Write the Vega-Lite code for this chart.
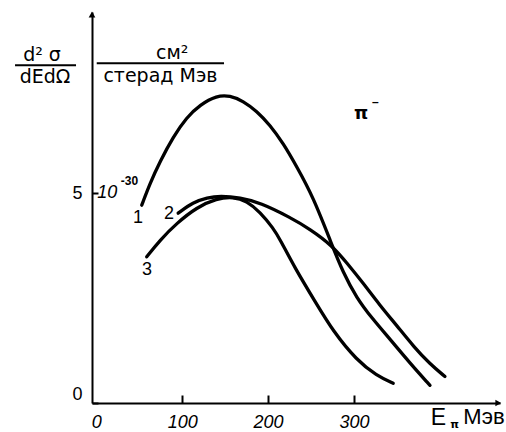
{
  "$schema": "https://vega.github.io/schema/vega-lite/v6.json",
  "width": 408,
  "height": 391,
  "autosize": {"type": "none"},
  "padding": {"left": 92, "top": 12, "right": 6, "bottom": 29},
  "background": "white",
  "config": {
    "view": {"stroke": null},
    "axis": {"grid": false, "domainColor": "black", "domainWidth": 2, "tickColor": "black", "tickWidth": 2, "labelColor": "black"}
  },
  "datasets": {
    "curves": [
      {"curve": "1", "E": 52.9, "v": 4.71},
      {"curve": "1", "E": 62.5, "v": 5.23},
      {"curve": "1", "E": 74.2, "v": 5.75},
      {"curve": "1", "E": 89.6, "v": 6.34},
      {"curve": "1", "E": 105.2, "v": 6.80},
      {"curve": "1", "E": 120.7, "v": 7.10},
      {"curve": "1", "E": 140.2, "v": 7.32},
      {"curve": "1", "E": 155.6, "v": 7.32},
      {"curve": "1", "E": 171.1, "v": 7.19},
      {"curve": "1", "E": 186.7, "v": 6.95},
      {"curve": "1", "E": 202.2, "v": 6.62},
      {"curve": "1", "E": 217.7, "v": 6.18},
      {"curve": "1", "E": 233.3, "v": 5.63},
      {"curve": "1", "E": 252.6, "v": 4.90},
      {"curve": "1", "E": 274.0, "v": 3.78},
      {"curve": "1", "E": 287.1, "v": 3.12},
      {"curve": "1", "E": 303.1, "v": 2.50},
      {"curve": "1", "E": 320.9, "v": 2.02},
      {"curve": "1", "E": 341.9, "v": 1.52},
      {"curve": "1", "E": 365.2, "v": 0.95},
      {"curve": "1", "E": 388.5, "v": 0.42},
      {"curve": "2", "E": 95.3, "v": 4.52},
      {"curve": "2", "E": 112.8, "v": 4.78},
      {"curve": "2", "E": 129.1, "v": 4.89},
      {"curve": "2", "E": 144.2, "v": 4.93},
      {"curve": "2", "E": 167.5, "v": 4.89},
      {"curve": "2", "E": 190.8, "v": 4.77},
      {"curve": "2", "E": 225.7, "v": 4.42},
      {"curve": "2", "E": 248.8, "v": 4.14},
      {"curve": "2", "E": 274.0, "v": 3.76},
      {"curve": "2", "E": 292.0, "v": 3.33},
      {"curve": "2", "E": 310.8, "v": 2.85},
      {"curve": "2", "E": 330.0, "v": 2.33},
      {"curve": "2", "E": 350.0, "v": 1.84},
      {"curve": "2", "E": 370.0, "v": 1.33},
      {"curve": "2", "E": 388.0, "v": 0.94},
      {"curve": "2", "E": 405.9, "v": 0.63},
      {"curve": "3", "E": 58.7, "v": 3.48},
      {"curve": "3", "E": 74.2, "v": 3.88},
      {"curve": "3", "E": 93.6, "v": 4.28},
      {"curve": "3", "E": 116.9, "v": 4.66},
      {"curve": "3", "E": 140.2, "v": 4.87},
      {"curve": "3", "E": 159.5, "v": 4.91},
      {"curve": "3", "E": 175.1, "v": 4.81},
      {"curve": "3", "E": 190.6, "v": 4.55},
      {"curve": "3", "E": 206.1, "v": 4.16},
      {"curve": "3", "E": 213.8, "v": 3.90},
      {"curve": "3", "E": 231.3, "v": 3.21},
      {"curve": "3", "E": 254.6, "v": 2.42},
      {"curve": "3", "E": 275.9, "v": 1.70},
      {"curve": "3", "E": 303.1, "v": 1.02},
      {"curve": "3", "E": 326.4, "v": 0.65},
      {"curve": "3", "E": 345.7, "v": 0.47}
    ],
    "ann": [
      {"k": "num", "t": "1", "E": 48.5, "v": 4.40},
      {"k": "num", "t": "2", "E": 84.6, "v": 4.50},
      {"k": "num", "t": "3", "E": 59.0, "v": 3.17},
      {"k": "ten", "t": "10", "E": 1.0, "v": 5.01},
      {"k": "sup", "t": "-30", "E": 38.6, "v": 5.29},
      {"k": "pi", "t": "π", "E": 308.2, "v": 6.88},
      {"k": "sup", "t": "–", "E": 325.0, "v": 7.16},
      {"k": "bigE", "t": "E", "E": 398.3, "v": -0.36},
      {"k": "sub", "t": "π", "E": 417.0, "v": -0.52},
      {"k": "unit", "t": "Мэв", "E": 451.3, "v": -0.33},
      {"k": "tit", "t": "d² σ", "E": -63.2, "v": 8.15},
      {"k": "tit", "t": "dEdΩ", "E": -59.7, "v": 7.62},
      {"k": "tit", "t": "см²", "E": 88.4, "v": 8.19},
      {"k": "tit", "t": "стерад Мэв", "E": 74.7, "v": 7.64}
    ],
    "fracs": [
      {"E": -94.6, "E2": -23.6, "v": 8.04},
      {"E": 0.5, "E2": 148.7, "v": 8.09}
    ],
    "arrows": [
      {"dir": "x", "E": 468, "v": 0},
      {"dir": "y", "E": -5, "v": 9.25}
    ]
  },
  "layer": [
    {
      "data": {"name": "curves"},
      "mark": {"type": "line", "interpolate": "basis", "stroke": "black", "strokeWidth": 3.3, "strokeCap": "round"},
      "encoding": {
        "x": {
          "field": "E", "type": "quantitative",
          "scale": {"domain": [-5, 470], "nice": false, "zero": false},
          "axis": {
            "values": [0, 100, 200, 300], "title": null, "tickSize": -8, "labelPadding": 18,
            "labelFont": "Liberation Sans", "labelFontStyle": "italic", "labelFontSize": 18,
            "tickOpacity": {"condition": {"test": "datum.value === 0", "value": 0}, "value": 1}
          }
        },
        "y": {
          "field": "v", "type": "quantitative",
          "scale": {"domain": [0, 9.31], "nice": false},
          "axis": {
            "values": [0, 5], "title": null, "tickSize": -6, "labelPadding": 16,
            "labelFont": "Liberation Sans", "labelFontSize": 18, "labelFlush": true
          }
        },
        "detail": {"field": "curve"}
      }
    },
    {
      "data": {"name": "fracs"},
      "mark": {"type": "rule", "stroke": "black", "strokeWidth": 2},
      "encoding": {
        "x": {"field": "E", "type": "quantitative"},
        "x2": {"field": "E2"},
        "y": {"field": "v", "type": "quantitative"}
      }
    },
    {
      "data": {"name": "arrows"},
      "transform": [{"filter": "datum.dir === 'x'"}],
      "mark": {"type": "point", "shape": "triangle-right", "filled": true, "color": "black", "size": 45, "opacity": 1},
      "encoding": {
        "x": {"field": "E", "type": "quantitative"},
        "y": {"field": "v", "type": "quantitative"}
      }
    },
    {
      "data": {"name": "arrows"},
      "transform": [{"filter": "datum.dir === 'y'"}],
      "mark": {"type": "point", "shape": "triangle-up", "filled": true, "color": "black", "size": 45, "opacity": 1},
      "encoding": {
        "x": {"field": "E", "type": "quantitative"},
        "y": {"field": "v", "type": "quantitative"}
      }
    },
    {
      "data": {"name": "ann"},
      "transform": [{"filter": "datum.k === 'num'"}],
      "mark": {"type": "text", "font": "Liberation Sans", "fontSize": 18, "color": "black", "align": "center", "baseline": "middle"},
      "encoding": {"x": {"field": "E", "type": "quantitative"}, "y": {"field": "v", "type": "quantitative"}, "text": {"field": "t"}}
    },
    {
      "data": {"name": "ann"},
      "transform": [{"filter": "datum.k === 'ten'"}],
      "mark": {"type": "text", "font": "Liberation Sans", "fontStyle": "italic", "fontSize": 18, "color": "black", "align": "left", "baseline": "middle"},
      "encoding": {"x": {"field": "E", "type": "quantitative"}, "y": {"field": "v", "type": "quantitative"}, "text": {"field": "t"}}
    },
    {
      "data": {"name": "ann"},
      "transform": [{"filter": "datum.k === 'sup'"}],
      "mark": {"type": "text", "font": "Liberation Sans", "fontWeight": "bold", "fontSize": 12, "color": "black", "align": "center", "baseline": "middle"},
      "encoding": {"x": {"field": "E", "type": "quantitative"}, "y": {"field": "v", "type": "quantitative"}, "text": {"field": "t"}}
    },
    {
      "data": {"name": "ann"},
      "transform": [{"filter": "datum.k === 'pi'"}],
      "mark": {"type": "text", "font": "DejaVu Sans", "fontWeight": "bold", "fontSize": 18, "color": "black", "align": "center", "baseline": "middle"},
      "encoding": {"x": {"field": "E", "type": "quantitative"}, "y": {"field": "v", "type": "quantitative"}, "text": {"field": "t"}}
    },
    {
      "data": {"name": "ann"},
      "transform": [{"filter": "datum.k === 'bigE'"}],
      "mark": {"type": "text", "font": "Liberation Sans", "fontSize": 23, "color": "black", "align": "center", "baseline": "middle"},
      "encoding": {"x": {"field": "E", "type": "quantitative"}, "y": {"field": "v", "type": "quantitative"}, "text": {"field": "t"}}
    },
    {
      "data": {"name": "ann"},
      "transform": [{"filter": "datum.k === 'sub'"}],
      "mark": {"type": "text", "font": "DejaVu Sans", "fontWeight": "bold", "fontSize": 11, "color": "black", "align": "center", "baseline": "middle"},
      "encoding": {"x": {"field": "E", "type": "quantitative"}, "y": {"field": "v", "type": "quantitative"}, "text": {"field": "t"}}
    },
    {
      "data": {"name": "ann"},
      "transform": [{"filter": "datum.k === 'unit'"}],
      "mark": {"type": "text", "font": "Liberation Sans", "fontSize": 22, "color": "black", "align": "center", "baseline": "middle"},
      "encoding": {"x": {"field": "E", "type": "quantitative"}, "y": {"field": "v", "type": "quantitative"}, "text": {"field": "t"}}
    },
    {
      "data": {"name": "ann"},
      "transform": [{"filter": "datum.k === 'tit'"}],
      "mark": {"type": "text", "font": "DejaVu Sans", "fontSize": 19, "color": "black", "align": "center", "baseline": "alphabetic"},
      "encoding": {"x": {"field": "E", "type": "quantitative"}, "y": {"field": "v", "type": "quantitative"}, "text": {"field": "t"}}
    }
  ]
}
